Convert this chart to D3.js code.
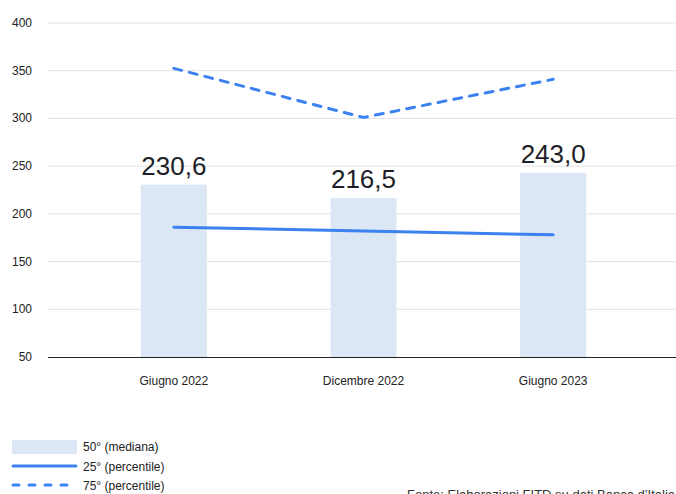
<!DOCTYPE html>
<html><head><meta charset="utf-8">
<script src="https://cdn.jsdelivr.net/npm/d3@7"></script>
<style>body{margin:0;background:#fff}svg{display:block;font-family:"Liberation Sans",Arial,sans-serif}</style>
</head><body>
<svg id="c" width="676" height="494"></svg>
<script>
const categories = ["Giugno 2022", "Dicembre 2022", "Giugno 2023"];
const median = [230.6, 216.5, 243.0];
const p25 = [186, 182, 178];
const p75 = [352.5, 301, 341];
const yTicks = [50, 100, 150, 200, 250, 300, 350, 400];
const legendLabels = ["50° (mediana)", "25° (percentile)", "75° (percentile)"];
const source = "Fonte: Elaborazioni FITD su dati Banca d’Italia";

const svg = d3.select("#c");
const blue = "#3b82f0", barC = "#dce7f5";
const x = d3.scaleBand().domain(categories).range([79, 648]).paddingInner(0.652).paddingOuter(0.326);
const y = d3.scaleLinear().domain([50, 400]).range([357, 23]);

// gridlines
svg.append("g").selectAll("line").data(yTicks.filter(d => d > 50)).join("line")
  .attr("x1", 48).attr("x2", 676).attr("y1", d => y(d)).attr("y2", d => y(d))
  .attr("stroke", "#e2e2e2").attr("stroke-width", 1);

// y labels
svg.append("g").selectAll("text").data(yTicks).join("text")
  .attr("x", 32).attr("y", d => y(d) + 4).attr("text-anchor", "end")
  .attr("font-size", 12).attr("fill", "#222").text(d => d);

// bars
const bw = 66;
svg.append("g").selectAll("rect").data(median).join("rect")
  .attr("x", (d, i) => x(categories[i]) + x.bandwidth() / 2 - bw / 2)
  .attr("width", bw).attr("y", d => y(d)).attr("height", d => y(50) - y(d))
  .attr("fill", barC);

// value labels
svg.append("g").selectAll("text").data(median).join("text")
  .attr("x", (d, i) => x(categories[i]) + x.bandwidth() / 2)
  .attr("y", d => y(d) - 10).attr("text-anchor", "middle")
  .attr("font-size", 26).attr("fill", "#1e1e28")
  .text(d => d3.format(".1f")(d).replace(".", ","));

// axis line
svg.append("line").attr("x1", 48).attr("x2", 676).attr("y1", y(50) + 0.5).attr("y2", y(50) + 0.5)
  .attr("stroke", "#222").attr("stroke-width", 1);

// x labels
svg.append("g").selectAll("text").data(categories).join("text")
  .attr("x", d => x(d) + x.bandwidth() / 2).attr("y", 385).attr("text-anchor", "middle")
  .attr("font-size", 12).attr("fill", "#222").text(d => d);

const line = d3.line().x((d, i) => x(categories[i]) + x.bandwidth() / 2).y(d => y(d));
svg.append("path").datum(p25).attr("d", line).attr("fill", "none")
  .attr("stroke", blue).attr("stroke-width", 3).attr("stroke-linecap", "round");
svg.append("path").datum(p75).attr("d", line).attr("fill", "none")
  .attr("stroke", blue).attr("stroke-width", 3).attr("stroke-dasharray", "8,8").attr("stroke-linecap", "round");

// legend
const lg = svg.append("g");
lg.append("rect").attr("x", 12).attr("y", 440).attr("width", 65).attr("height", 14).attr("fill", barC);
lg.append("line").attr("x1", 13).attr("x2", 76).attr("y1", 466).attr("y2", 466)
  .attr("stroke", blue).attr("stroke-width", 3).attr("stroke-linecap", "round");
lg.append("line").attr("x1", 13).attr("x2", 76).attr("y1", 485).attr("y2", 485)
  .attr("stroke", blue).attr("stroke-width", 3).attr("stroke-linecap", "round").attr("stroke-dasharray", "6,10");
lg.selectAll("text").data(legendLabels).join("text")
  .attr("x", 83).attr("y", (d, i) => 451 + i * 19.5).attr("font-size", 12).attr("fill", "#222").text(d => d);

svg.append("text").attr("x", 407).attr("y", 499).attr("font-size", 13).attr("fill", "#333").text(source);
</script>
</body></html>
